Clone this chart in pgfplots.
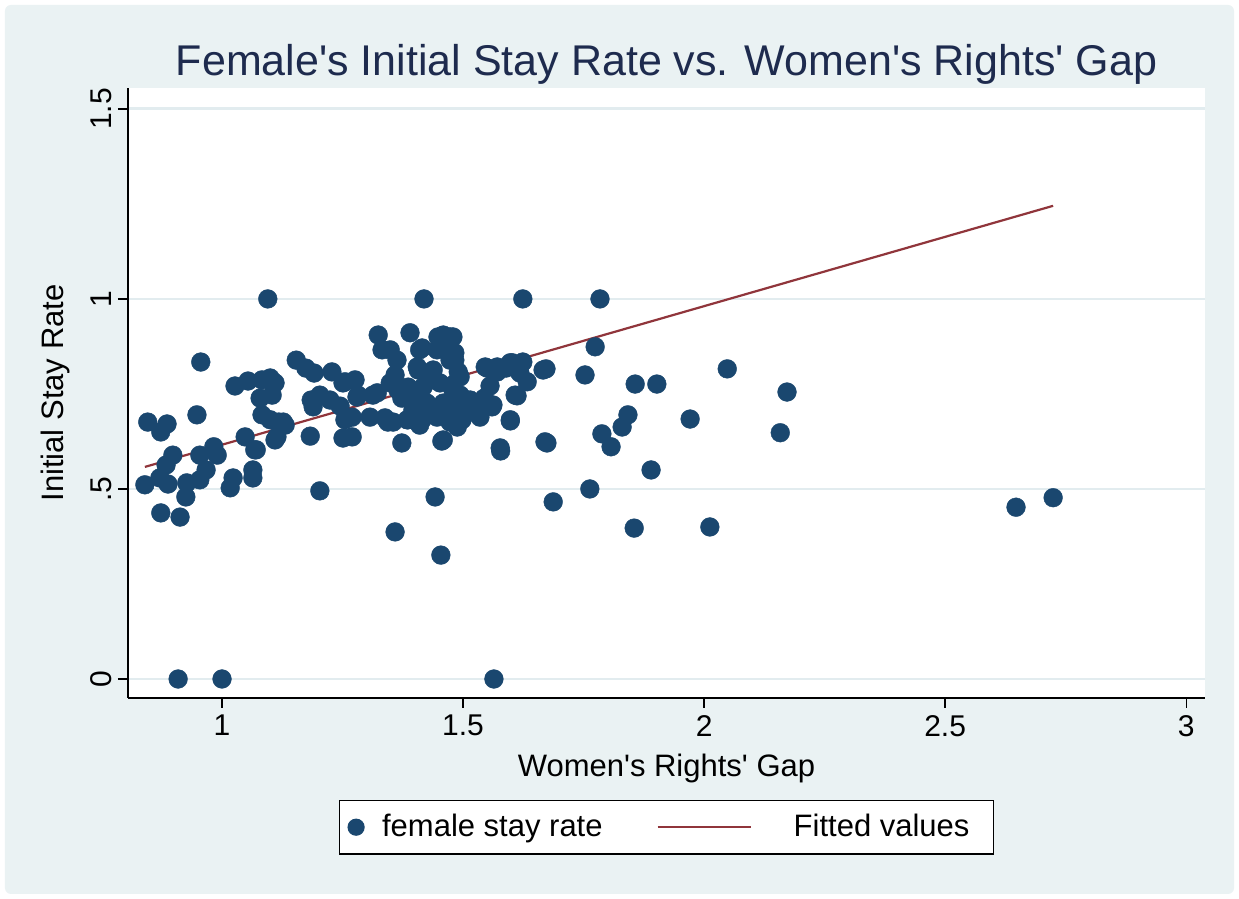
\documentclass[border=0pt]{standalone}
\usepackage{pgfplots}
\pgfplotsset{compat=1.18}
\usepackage{fontspec}
\setmainfont{Liberation Sans}
\newcommand{\q}{\textquotesingle}
\definecolor{bgc}{RGB}{234,242,243}
\definecolor{gridc}{RGB}{226,236,239}
\definecolor{dotc}{RGB}{26,71,111}
\definecolor{fitc}{RGB}{144,53,59}
\definecolor{titlec}{RGB}{30,43,78}

\pgfplotstableread{
x y
0.840 0.511
0.846 0.676
0.873 0.650
0.886 0.671
0.873 0.437
0.913 0.426
0.909 0.000
1.000 0.000
1.564 0.000
0.884 0.563
0.898 0.589
0.871 0.529
0.888 0.513
0.927 0.516
0.925 0.479
0.956 0.834
0.948 0.695
0.954 0.589
0.983 0.611
0.967 0.550
0.954 0.524
1.017 0.503
1.023 0.529
0.990 0.589
1.048 0.637
1.071 0.603
1.064 0.550
1.064 0.529
1.027 0.771
1.054 0.784
1.095 1.000
1.100 0.792
1.110 0.779
1.079 0.739
1.083 0.695
1.100 0.682
1.118 0.676
1.114 0.637
1.131 0.668
1.154 0.839
1.174 0.818
1.185 0.734
1.183 0.639
1.203 0.495
1.104 0.747
1.083 0.787
1.106 0.782
1.127 0.676
1.068 0.603
1.110 0.629
1.191 0.805
1.228 0.808
1.255 0.782
1.251 0.779
1.203 0.747
1.189 0.716
1.224 0.734
1.245 0.718
1.255 0.682
1.251 0.634
1.280 0.742
1.276 0.787
1.282 0.747
1.270 0.689
1.270 0.637
1.307 0.689
1.313 0.747
1.322 0.753
1.324 0.905
1.332 0.866
1.349 0.866
1.363 0.839
1.349 0.779
1.359 0.800
1.365 0.760
1.373 0.739
1.338 0.687
1.344 0.676
1.355 0.676
1.359 0.387
1.373 0.621
1.390 0.911
1.410 0.866
1.415 0.871
1.405 0.821
1.407 0.813
1.386 0.768
1.417 0.768
1.438 0.813
1.410 0.734
1.425 0.726
1.396 0.708
1.386 0.682
1.384 0.682
1.410 0.668
1.415 0.682
1.432 0.708
1.432 0.713
1.436 0.787
1.452 0.779
1.446 0.689
1.442 0.479
1.456 0.626
1.459 0.629
1.454 0.326
1.448 0.900
1.459 0.905
1.446 0.866
1.467 0.879
1.473 0.900
1.479 0.900
1.483 0.858
1.483 0.839
1.473 0.839
1.490 0.808
1.494 0.795
1.479 0.774
1.479 0.761
1.494 0.747
1.459 0.726
1.477 0.716
1.500 0.716
1.494 0.721
1.490 0.682
1.473 0.676
1.498 0.682
1.488 0.663
1.508 0.734
1.515 0.734
1.521 0.708
1.527 0.708
1.535 0.689
1.541 0.726
1.544 0.739
1.560 0.716
1.546 0.821
1.550 0.818
1.556 0.771
1.562 0.721
1.571 0.808
1.571 0.821
1.589 0.818
1.598 0.832
1.602 0.832
1.618 0.805
1.608 0.747
1.612 0.745
1.633 0.782
1.624 0.834
1.666 0.813
1.598 0.679
1.598 0.682
1.578 0.600
1.577 0.608
1.670 0.624
1.419 1.000
1.624 1.000
1.784 1.000
1.774 0.874
1.672 0.816
1.753 0.800
1.857 0.776
1.902 0.776
2.048 0.816
2.172 0.755
2.158 0.648
2.012 0.400
1.971 0.684
1.842 0.695
1.830 0.663
1.788 0.645
1.807 0.611
1.890 0.550
1.763 0.500
1.687 0.466
1.855 0.397
1.674 0.621
2.647 0.452
2.724 0.477
}\stayrate

\begin{document}
\begin{tikzpicture}
\useasboundingbox (-64pt,-100.5pt) rectangle (555.5pt,349pt);
\fill[white] (-64pt,-100.5pt) rectangle (555.5pt,349pt);
\fill[bgc, rounded corners=3pt] (-61.5pt,-98pt) rectangle (553pt,346.5pt);
\begin{axis}[
  at={(0,0)}, anchor=south west,
  scale only axis, width=538.5pt, height=305pt,
  xmin=0.805, xmax=3.039, ymin=-0.05, ymax=1.555,
  axis background/.style={fill=white},
  axis x line*=bottom, axis y line*=left,
  axis line style={black, line width=0.8pt},
  xtick={1,1.5,2,2.5,3},
  ytick={0,0.5,1,1.5},
  yticklabels={0,.5,1,1.5},
  tick align=outside,
  major tick length=5pt,
  tick style={black, line width=0.7pt},
  ymajorgrids,
  major grid style={gridc, line width=1.4pt},
  /pgf/number format/assume math mode=true,
  tick label style={font=\fontsize{15}{18}\selectfont},
  yticklabel style={rotate=90, anchor=south, inner sep=3pt},
  label style={font=\fontsize{15.5}{18}\selectfont},
  xlabel={Women\q s Rights\q{} Gap},
  ylabel={Initial Stay Rate},
  xlabel style={at={(axis description cs:0.5,0)}, anchor=base, yshift=-39.5pt},
  ylabel style={at={(axis description cs:0,0.5)}, anchor=center, yshift=36.5pt},
  title={Female\q s Initial Stay Rate vs. Women\q s Rights\q{} Gap},
  title style={font=\fontsize{21.5}{24}\selectfont, color=titlec, at={(axis description cs:0.5,1)}, anchor=base, yshift=0pt},
  legend columns=2,
  legend style={at={(0.5,-0.167)}, anchor=north, draw=black, line width=0.6pt, fill=white,
    font=\fontsize{15.5}{18}\selectfont, inner xsep=4pt, inner ysep=5pt,
    /tikz/every even column/.append style={column sep=25pt}},
  legend cell align=left,
]
\addplot[only marks, mark=*, mark size=4.7pt, mark options={fill=dotc, draw=dotc, line width=0.2pt},
  legend image code/.code={\fill[dotc] (0cm,0cm) circle (4pt); \path[draw=none] (-4pt,0) -- (11pt,0);}]
  table[x=x, y=y] {\stayrate};
\addlegendentry{female stay rate}
\addplot[fitc, line width=1.1pt,
  legend image code/.code={\draw[fitc, line width=1.1pt] (0cm,0cm) -- (46.5pt,0cm); \path[draw=none] (46.5pt,0) -- (66pt,0);}]
  coordinates {(0.840,0.558) (2.724,1.245)};
\addlegendentry{Fitted values\kern6pt}
\end{axis}
\end{tikzpicture}
\end{document}
